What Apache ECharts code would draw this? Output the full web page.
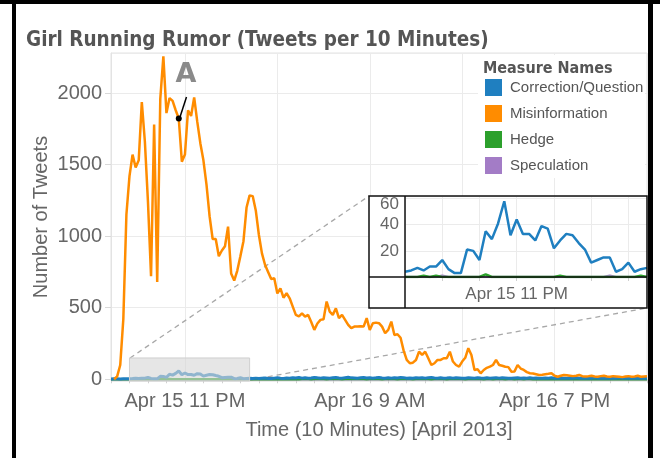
<!DOCTYPE html>
<html>
<head>
<meta charset="utf-8">
<script src="https://cdn.jsdelivr.net/npm/echarts@6/dist/echarts.min.js"></script>
<style>
html,body{margin:0;padding:0;background:#fff;}
#c{width:660px;height:458px;}
</style>
</head>
<body>
<div id="c"></div>
<script>
// 10-minute bins from Apr 15 7:00 PM to Apr 17 12:00 AM (2013)
var categories = [];
(function(){
  var t0 = Date.UTC(2013, 3, 15, 19, 0);
  for (var i = 0; i < 175; i++) {
    var d = new Date(t0 + i * 600000);
    var p = function(n){ return (n < 10 ? '0' : '') + n; };
    categories.push(d.getUTCFullYear() + '-' + p(d.getUTCMonth()+1) + '-' + p(d.getUTCDate()) + ' ' + p(d.getUTCHours()) + ':' + p(d.getUTCMinutes()));
  }
})();

var xTickCats = ['2013-04-15 23:00', '2013-04-16 09:00', '2013-04-16 19:00'];
var xTickLabels = ['Apr 15 11 PM', 'Apr 16 9 AM', 'Apr 16 7 PM'];
var insetTickCats = ['2013-04-15 23:00'];
var insetTickLabels = ['Apr 15 11 PM'];

var seriesNames = ['Correction/Question', 'Misinformation', 'Hedge', 'Speculation'];
var seriesColors = ['#1f7fc0', '#ff8c00', '#2ca02c', '#a37cc6'];

var misinformation = [
  null,0,20,100,420,1150,1420,1570,1480,1530,
  1937,1660,1240,720,1780,680,1960,2256,1860,1965,
  1945,1880,1822,1520,1570,1880,1840,1970,1800,1650,
  1530,1360,1140,980,980,860,900,930,1067,740,
  690,760,860,965,1200,1285,1280,1180,1010,880,
  800,750,700,706,600,636,570,601,566,508,
  450,440,461,438,450,400,345,390,415,420,
  543,473,450,496,427,450,415,380,357,368,
  368,370,368,427,345,392,396,392,368,322,
  345,403,310,315,290,200,135,112,116,135,
  193,170,193,147,100,112,135,135,147,147,
  193,124,100,88,124,150,217,170,65,70,
  42,65,80,88,100,135,100,95,88,85,
  53,55,100,75,65,50,42,40,35,30,
  32,35,38,42,25,18,25,30,28,25,
  22,25,30,22,20,22,25,20,18,22,
  25,20,18,22,20,18,15,20,22,18,
  20,25,18,20,22
];

var correction = [
  2,3,3,2,4,3,
  4,5,7,5,8,8,13,6,3,3,21,20,13,35,29,41,58,32,44,33,33,28,39,37,22,28,33,32,26,21,11,13,15,15,4,6,11,4,6,7,
  6,8,5,7,9,6,5,8,10,7,6,9,8,11,
  9,12,8,10,7,9,13,10,8,11,9,7,10,12,9,8,11,14,10,9,
  8,10,12,9,11,8,10,13,9,7,10,8,11,9,12,10,8,9,7,10,
  9,11,8,10,12,9,7,10,8,9,11,8,10,9,7,8,10,9,8,11,
  9,8,10,7,9,11,8,10,9,8,7,9,10,8,9,7,10,8,9,8,
  7,9,8,10,8,7,9,8,7,9,8,10,7,8,9,7,8,10,8,9,
  7,8,9,7,8,10,8,7,9,8,7,8,9,8,7
];

var hedge = [
  0,0,0,0,0,0,
  0,0,0,1,0,1,0,0,0,0,0,0,0,2,0,0,0,0,0,0,0,0,0,0,0,1,0,0,0,0,0,0,0,0,0,0,0,0,1,0,
  0,1,0,1,1,0,1,2,1,0,1,1,2,1,
  2,1,2,3,2,1,2,2,3,2,1,2,3,2,2,1,2,3,2,2,
  3,2,2,1,2,3,2,2,1,2,3,2,2,1,2,2,3,2,1,2,
  2,3,2,2,1,2,2,3,2,1,2,2,3,2,2,1,2,2,3,2,
  2,1,2,2,1,2,3,2,1,2,2,1,2,2,1,2,2,1,2,1,
  2,1,1,2,1,2,1,1,2,1,1,2,1,1,2,1,1,2,1,1,
  1,2,1,1,1,2,1,1,1,2,1,1,1,1,1
];

var speculation = [
  0,0,0,0,0,0,
  0,0,0,0,0,0,1,0,0,0,0,0,0,0,0,0,0,0,0,0,0,0,0,0,0,0,0,0,0,0,0,0,0,1,0,0,0,0,0,0,
  0,0,0,0,0,0,0,0,0,0,0,0,0,0,
  0,0,0,0,0,0,0,0,0,0,0,0,0,0,0,0,0,0,0,0,
  0,0,0,0,0,0,0,0,0,0,0,0,0,0,0,0,0,0,0,0,
  0,0,0,0,0,0,0,0,0,0,0,0,0,0,0,0,0,0,0,0,
  0,0,0,0,0,0,0,0,0,0,0,0,0,0,0,0,0,0,0,0,
  0,0,0,0,0,0,0,0,0,0,0,0,0,0,0,0,0,0,0,0,
  0,0,0,0,0,0,0,0,0,0,0,0,0,0,0
];

// zoomed window (8:00 PM - 2:30 AM) shown in the inset
var insetStart = 6, insetEnd = 46;
var zoomBoxTop = 149;
var annotIndex = 22;

var FONT = '"Liberation Sans", Arial, sans-serif';
var TFONT = '"DejaVu Sans Condensed", "DejaVu Sans", sans-serif';
var GRID = '#ebebeb';
var TXT = '#666';

var chart = echarts.init(document.getElementById('c'), null, {renderer: 'canvas'});

var insetCats = categories.slice(insetStart, insetEnd);

function lineSeries(name, data, color, width, xi, z) {
  return {name: name, type: 'line', xAxisIndex: xi, yAxisIndex: xi, data: data,
    showSymbol: false, symbol: 'none', lineStyle: {width: width, color: color},
    itemStyle: {color: color}, z: z};
}

var orangeSeries = lineSeries(seriesNames[1], misinformation, seriesColors[1], 2.5, 0, 3);
orangeSeries.markPoint = {symbol: 'circle', symbolSize: 6, silent: true,
  itemStyle: {color: '#000'}, label: {show: false},
  data: [{coord: [categories[annotIndex], misinformation[annotIndex]]}]};

var option = {
  animation: false,
  textStyle: {fontFamily: FONT},
  title: [
    {text: 'Girl Running Rumor (Tweets per 10 Minutes)', left: 21, top: 25,
     textStyle: {fontFamily: TFONT, fontWeight: 'bold', fontSize: 20.5, color: '#555'}},
    {text: 'Measure Names', left: 478, top: 56, z: 6,
     textStyle: {fontFamily: TFONT, fontWeight: 'bold', fontSize: 16, color: '#555'}}
  ],
  legend: {
    orient: 'vertical', left: 485, top: 79, padding: 0,
    itemWidth: 17, itemHeight: 17, itemGap: 9, icon: 'rect',
    data: seriesNames,
    textStyle: {fontFamily: FONT, fontSize: 15, color: '#555', padding: [0,0,0,3]},
    z: 6
  },
  grid: [
    {left: 111, top: 53, width: 536, height: 328, show: true, borderColor: '#e3e3e3', borderWidth: 1, containLabel: false},
    {left: 405, top: 196, width: 242, height: 81, show: false, containLabel: false}
  ],
  xAxis: [
    {
      type: 'category', gridIndex: 0, data: categories, boundaryGap: false,
      name: 'Time (10 Minutes) [April 2013]', nameLocation: 'middle', nameGap: 39,
      nameTextStyle: {fontFamily: FONT, fontSize: 20, color: TXT},
      axisLine: {lineStyle: {color: '#d9d9d9'}},
      axisTick: {show: true, length: 4, lineStyle: {color: '#d0d0d0'},
        interval: function(i){ return i % 6 === 0; }},
      axisLabel: {fontFamily: FONT, fontSize: 20, color: TXT, margin: 10,
        interval: function(i, v){ return xTickCats.indexOf(v) >= 0; },
        formatter: function(v){ var k = xTickCats.indexOf(v); return k >= 0 ? xTickLabels[k] : ''; }},
      splitLine: {show: true, lineStyle: {color: GRID},
        interval: function(i){ return (i - 24) % 30 === 0; }}
    },
    {
      type: 'category', gridIndex: 1, data: insetCats, boundaryGap: false, z: 3,
      axisLine: {show: false},
      axisTick: {show: true, length: 4, lineStyle: {color: '#cfcfcf'},
        interval: function(i){ return i % 6 === 0 && i > 0; }},
      axisLabel: {fontFamily: FONT, fontSize: 17, color: TXT, margin: 9,
        interval: function(i, v){ return insetTickCats.indexOf(v) >= 0; },
        formatter: function(v){ var k = insetTickCats.indexOf(v); return k >= 0 ? insetTickLabels[k] : ''; }},
      splitLine: {show: true, lineStyle: {color: GRID},
        interval: function(i){ return i % 6 === 0; }}
    }
  ],
  yAxis: [
    {
      type: 'value', gridIndex: 0, min: -12, max: 2280, splitNumber: 5,
      name: 'Number of Tweets', nameLocation: 'middle', nameGap: 60, nameRotate: 90,
      nameMoveOverlap: false,
      nameTextStyle: {fontFamily: FONT, fontSize: 20, color: TXT},
      axisLine: {show: true, lineStyle: {color: '#e3e3e3'}},
      axisTick: {show: true, length: 6, lineStyle: {color: '#d9d9d9'}},
      axisLabel: {fontFamily: FONT, fontSize: 20, color: TXT, margin: 9, showMinLabel: false, showMaxLabel: false,
        formatter: function(v){ return String(v); }},
      splitLine: {show: true, lineStyle: {color: GRID}}
    },
    {
      type: 'value', gridIndex: 1, min: 0, max: 62, interval: 20, z: 3,
      axisLine: {show: false}, axisTick: {show: false},
      axisLabel: {fontFamily: FONT, fontSize: 17, color: TXT, margin: 6,
        showMinLabel: false, showMaxLabel: false,
        formatter: function(v){ return v === 0 ? '' : (v === 60 ? '{d|60}' : String(v)); },
        rich: {d: {fontFamily: FONT, fontSize: 17, color: TXT, padding: [12, 0, 0, 0]}}},
      splitLine: {show: true, lineStyle: {color: GRID}}
    }
  ],
  series: [
    lineSeries(seriesNames[3], speculation, seriesColors[3], 2.5, 0, 2),
    lineSeries(seriesNames[2], hedge, seriesColors[2], 2.5, 0, 2),
    lineSeries(seriesNames[0], correction, seriesColors[0], 3, 0, 2),
    orangeSeries,
    // zoom highlight box over the window that the inset magnifies
    {name: 'zoomBox', type: 'line', xAxisIndex: 0, yAxisIndex: 0, data: [], z: 5, silent: true,
     markArea: {silent: true, z: 10,
       itemStyle: {color: 'rgba(215,215,215,0.62)', borderColor: '#cfcfcf', borderWidth: 1},
       data: [[{xAxis: categories[insetStart], yAxis: zoomBoxTop}, {xAxis: categories[insetEnd - 1], yAxis: -12}]]}},
    // inset series
    lineSeries(seriesNames[3], speculation.slice(insetStart, insetEnd), seriesColors[3], 2.5, 1, 4),
    lineSeries(seriesNames[2], hedge.slice(insetStart, insetEnd), seriesColors[2], 2.5, 1, 4),
    lineSeries(seriesNames[0], correction.slice(insetStart, insetEnd), seriesColors[0], 2.5, 1, 4)
  ],
  graphic: [
    // legend background
    {type: 'rect', z: 1, shape: {x: 478, y: 55, width: 167, height: 123}, style: {fill: '#fff'}},
    // inset background
    {type: 'rect', z: 1, shape: {x: 369, y: 196, width: 278, height: 112}, style: {fill: '#fff'}},
    // dashed connector lines
    {type: 'line', z: 2, shape: {x1: 130, y1: 358, x2: 369, y2: 196}, style: {stroke: '#a8a8a8', lineWidth: 1.3, lineDash: [5, 4]}},
    {type: 'line', z: 2, shape: {x1: 250, y1: 380, x2: 647, y2: 308}, style: {stroke: '#a8a8a8', lineWidth: 1.3, lineDash: [5, 4]}},
    // inset frame
    {type: 'rect', z: 10, shape: {x: 369, y: 196, width: 278, height: 112}, style: {fill: null, stroke: '#111', lineWidth: 1.5}},
    {type: 'line', z: 10, shape: {x1: 369, y1: 277, x2: 647, y2: 277}, style: {stroke: '#111', lineWidth: 1.5}},
    {type: 'line', z: 10, shape: {x1: 405, y1: 196, x2: 405, y2: 308}, style: {stroke: '#111', lineWidth: 1.5}},
    // annotation A
    {type: 'text', z: 10, style: {text: 'A', x: 186, y: 75, textAlign: 'center', textVerticalAlign: 'middle',
      font: 'bold 27px "DejaVu Sans", sans-serif', fill: '#8a8a8a'}},
    {type: 'line', z: 10, shape: {x1: 186.5, y1: 97, x2: 180, y2: 117}, style: {stroke: '#000', lineWidth: 1.5}},
    // outer black frame
    {type: 'rect', z: 20, shape: {x: 0, y: 0, width: 660, height: 4}, style: {fill: '#000'}},
    {type: 'rect', z: 20, shape: {x: 12, y: 0, width: 4, height: 458}, style: {fill: '#000'}},
    {type: 'rect', z: 20, shape: {x: 648, y: 0, width: 5, height: 458}, style: {fill: '#000'}}
  ]
};

chart.setOption(option);
</script>
</body>
</html>
